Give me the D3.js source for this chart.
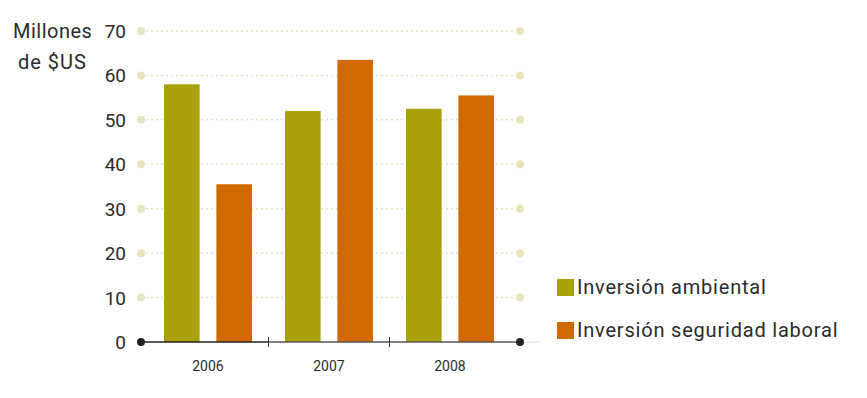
<!DOCTYPE html>
<html>
<head>
<meta charset="utf-8">
<script src="https://cdn.jsdelivr.net/npm/d3@7"></script>
<style>
  body { margin: 0; background: #fff; }
  text { font-family: Roboto, "DejaVu Sans", sans-serif; fill: #2b2b2b; }
</style>
</head>
<body>
<div id="chart"></div>
<script>
const years = ["2006", "2007", "2008"];
const series = ["Inversión ambiental", "Inversión seguridad laboral"];
const ambiental = [58, 52, 52.5];
const seguridad = [35.5, 63.5, 55.5];
const yTicks = [0, 10, 20, 30, 40, 50, 60, 70];

const WIDTH = 867, HEIGHT = 398;
const colors = ["#a9a00a", "#d06a00"];

const svg = d3.select("#chart").append("svg")
  .attr("width", WIDTH).attr("height", HEIGHT);

const x = d3.scaleBand().domain(years).range([147.5, 510.5]).padding(0);
const xs = d3.scaleBand().domain(series).range([16.5, 104.5]).paddingInner(0.32);
const y = d3.scaleLinear().domain([0, 70]).range([342, 31]);

const xL = 141, xR = 520;

// grid lines (dotted, with end dots)
const grid = svg.append("g");
grid.selectAll("line").data(yTicks.filter(d => d > 0)).join("line")
  .attr("x1", xL).attr("x2", xR)
  .attr("y1", d => y(d)).attr("y2", d => y(d))
  .attr("stroke", "#e8e5bd").attr("stroke-width", 1.5)
  .attr("stroke-dasharray", "2,3");
yTicks.filter(d => d > 0).forEach(t => {
  [xL, xR].forEach(cx => grid.append("circle")
    .attr("cx", cx).attr("cy", y(t)).attr("r", 4).attr("fill", "#e8e5bd"));
});

// y tick labels
svg.append("g").selectAll("text").data(yTicks).join("text")
  .attr("x", 126).attr("y", d => y(d) + 7)
  .attr("text-anchor", "end").attr("font-size", 19)
  .text(d => d);

// bars
const data = years.map((yr, i) => ({ year: yr, values: [ambiental[i], seguridad[i]] }));
const groups = svg.append("g").selectAll("g").data(data).join("g")
  .attr("transform", d => `translate(${x(d.year)},0)`);
groups.selectAll("rect").data(d => d.values.map((v, j) => ({ s: series[j], v, j }))).join("rect")
  .attr("x", d => xs(d.s)).attr("width", xs.bandwidth())
  .attr("y", d => y(d.v)).attr("height", d => y(0) - y(d.v))
  .attr("fill", d => colors[d.j]);

// baseline
svg.append("line").attr("x1", xR).attr("x2", 540).attr("y1", y(0)).attr("y2", y(0))
  .attr("stroke", "#f6d6cc").attr("stroke-width", 1);
svg.append("line").attr("x1", xL).attr("x2", x("2007")).attr("y1", y(0)).attr("y2", y(0))
  .attr("stroke", "#222").attr("stroke-width", 1.3);
svg.append("line").attr("x1", x("2007")).attr("x2", xR).attr("y1", y(0)).attr("y2", y(0))
  .attr("stroke", "#555").attr("stroke-width", 1.3);
[xL, xR].forEach(cx => svg.append("circle")
  .attr("cx", cx).attr("cy", y(0)).attr("r", 4).attr("fill", "#222"));
years.slice(1).forEach(yr => svg.append("line")
  .attr("x1", x(yr)).attr("x2", x(yr)).attr("y1", y(0) - 5).attr("y2", y(0) + 5)
  .attr("stroke", "#333").attr("stroke-width", 1));

// x labels
svg.append("g").selectAll("text").data(years).join("text")
  .attr("x", d => x(d) + x.bandwidth() / 2).attr("y", 371)
  .attr("text-anchor", "middle").attr("font-size", 14)
  .text(d => d);

// axis title
svg.append("text").attr("x", 13).attr("y", 38).attr("font-size", 20)
  .attr("letter-spacing", 0.5).text("Millones");
svg.append("text").attr("x", 18).attr("y", 69).attr("font-size", 20)
  .attr("letter-spacing", 1).text("de $US");

// legend
const legend = svg.append("g").attr("transform", "translate(557,279)");
const rows = legend.selectAll("g").data(series).join("g")
  .attr("transform", (_, i) => `translate(0,${i * 43})`);
rows.append("rect").attr("width", 17).attr("height", 17)
  .attr("fill", (_, i) => colors[i]);
rows.append("text").attr("x", 20).attr("y", 15).attr("font-size", 20)
  .attr("letter-spacing", 0.8).text(d => d);
</script>
</body>
</html>
